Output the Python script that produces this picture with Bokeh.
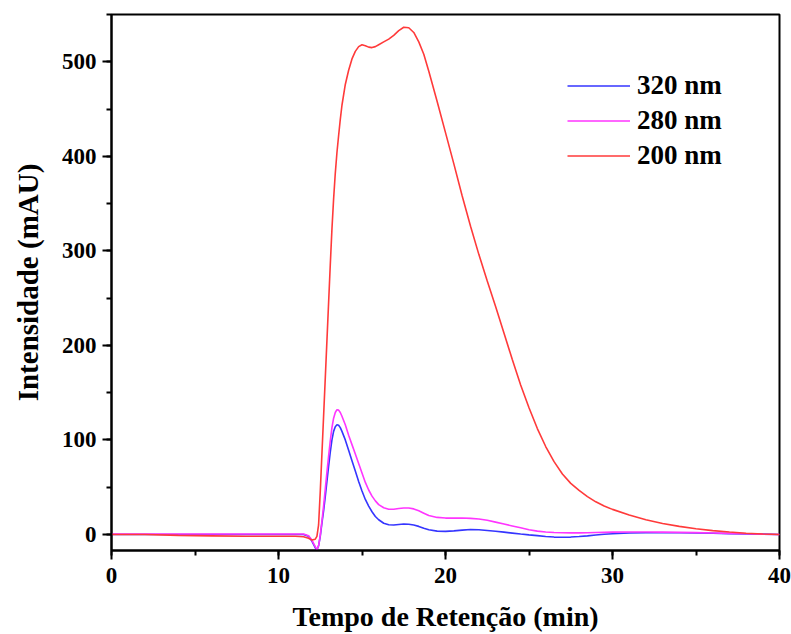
from bokeh.plotting import figure
from bokeh.models import Legend, LegendItem, SingleIntervalTicker, Range1d
from bokeh.embed import file_html
from bokeh.resources import INLINE

# ---------------- data ----------------
time_min = [0, 2, 4, 6, 8, 10, 11, 11.5, 11.8, 12.0, 12.2, 12.3, 12.4, 12.5, 12.6, 12.7,
            12.8, 12.9, 13.0, 13.1, 13.2, 13.3, 13.4, 13.5, 13.6, 13.7, 13.8, 14.0, 14.2,
            14.4, 14.6, 14.8, 15.0, 15.2, 15.4, 15.6, 15.8, 16.0, 16.3, 16.6, 16.9, 17.2,
            17.5, 17.8, 18.1, 18.4, 18.7, 19.0, 19.5, 20.0, 20.5, 21.0, 21.5, 22.0, 22.5,
            23.0, 23.5, 24.0, 24.5, 25.0, 25.5, 26.0, 26.5, 27.0, 27.5, 28.0, 28.5, 29.0,
            29.5, 30.0, 31, 32, 33, 34, 35, 36, 37, 38, 39, 40]

int_320 = [0, 0, 0, 0, 0, 0, 0, 0, -2, -7, -14, -16.5, -12, -2, 12, 25,
           40, 56, 72, 87, 100, 109, 114, 116, 115.5, 113, 109, 100, 89,
           78, 67, 56, 46, 37, 30, 24, 19, 15.5, 11.8, 10.2, 9.9, 10.5,
           11, 10.8, 10, 8.5, 6.5, 5, 3.5, 3.2, 3.8, 4.6, 5.2, 5.0, 4.2,
           3.3, 2.4, 1.4, 0.4, -0.5, -1.3, -2.2, -2.8, -3, -2.8, -2.2, -1.5, -0.6,
           0.2, 0.8, 1.5, 1.8, 1.8, 1.7, 1.5, 1.2, 0.9, 0.6, 0.3, 0]

int_280 = [0.5, 0.5, 0.5, 0.5, 0.5, 0.5, 0.5, 0.5, -1.5, -6, -13, -16, -12, -1, 14, 30,
           48, 66, 83, 99, 113, 123, 129, 132, 131.5, 129, 125, 116, 105,
           95, 85, 75, 65, 55, 47, 40.5, 35.5, 31.5, 28.2, 26.7, 26.6, 27.5,
           28, 28, 27, 25, 22.5, 20, 18, 17.3, 17.2, 17.3, 17, 16.3, 15,
           13, 11, 9, 7, 5, 3.5, 2.5, 2, 1.8, 1.6, 1.6, 1.8, 2,
           2.2, 2.4, 2.6, 2.6, 2.4, 2.2, 1.9, 1.5, 1.1, 0.7, 0.3, 0]

int_200 = [0, 0, -1, -1.5, -2, -2, -2, -2.5, -4, -6, -5, -2, 10, 45, 85, 125,
           165, 205, 245, 285, 323, 355, 382, 404, 422, 439, 454, 476, 491,
           503, 511, 516, 518, 517, 515.5, 515, 516, 518, 521, 524, 528, 533,
           536.5, 536, 531, 521, 508, 490, 458, 425, 392, 358, 326, 296, 268,
           241, 213, 185, 158, 134, 112, 93, 77, 64, 54, 46.5, 40, 34.5,
           30, 26.5, 20.5, 15.5, 11.5, 8.5, 6, 4, 2.5, 1.3, 0.5, 0]

series_labels = ["320 nm", "280 nm", "200 nm"]
series_colors = ["#3535ff", "#ff35ff", "#ff3a3a"]

x_title = "Tempo de Retenção (min)"
y_title = "Intensidade (mAU)"

FONT = "Liberation Serif"

# ---------------- figure ----------------
p = figure(width=791, height=634, output_backend="svg", toolbar_location=None,
           x_range=Range1d(0, 40), y_range=Range1d(-17, 550),
           min_border_left=111, min_border_right=12, min_border_top=14,
           min_border_bottom=84)

p.xgrid.visible = False
p.ygrid.visible = False
p.outline_line_color = "black"
p.outline_line_width = 2
p.background_fill_color = "white"
p.border_fill_color = "white"

renderers = []
for ys, c in zip([int_320, int_280, int_200], series_colors):
    r = p.line(time_min, ys, line_color=c, line_width=1.6)
    renderers.append(r)

p.xaxis.ticker = SingleIntervalTicker(interval=10, num_minor_ticks=2)
p.yaxis.ticker = SingleIntervalTicker(interval=100, num_minor_ticks=2)

for ax in (p.xaxis[0], p.yaxis[0]):
    ax.axis_line_width = 2
    ax.axis_line_color = "black"
    ax.major_tick_line_width = 2
    ax.minor_tick_line_width = 2
    ax.major_tick_in = 0
    ax.major_tick_out = 9
    ax.minor_tick_in = 0
    ax.minor_tick_out = 5
    ax.major_label_text_font = FONT
    ax.major_label_text_font_style = "bold"
    ax.major_label_text_font_size = "23px"
    ax.major_label_text_color = "black"
    ax.axis_label_text_font = FONT
    ax.axis_label_text_font_style = "bold"
    ax.axis_label_text_color = "black"

p.xaxis.axis_label = x_title
p.yaxis.axis_label = y_title
p.xaxis.axis_label_text_font_size = "28px"
p.yaxis.axis_label_text_font_size = "29px"
p.xaxis.major_label_standoff = 8
p.yaxis.major_label_standoff = 6
p.xaxis.axis_label_standoff = 15
p.yaxis.axis_label_standoff = 15

items = [LegendItem(label=lab, renderers=[r]) for lab, r in zip(series_labels, renderers)]
legend = Legend(items=items, location=(456, 377), orientation="vertical",
                border_line_alpha=0, background_fill_alpha=0,
                glyph_width=63, glyph_height=35, label_height=35,
                spacing=0, padding=0, margin=0, label_standoff=7,
                label_text_font=FONT, label_text_font_style="bold",
                label_text_font_size="27px", label_text_color="black")
p.add_layout(legend)

open("out.html", "w").write(file_html(p, INLINE))
